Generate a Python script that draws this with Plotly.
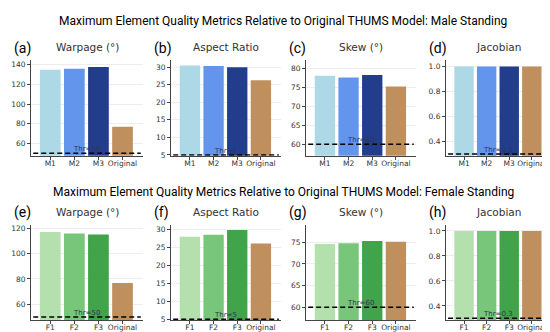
import plotly.graph_objects as go

male_cats = ["M1", "M2", "M3", "Original"]
female_cats = ["F1", "F2", "F3", "Original"]

metrics = ["Warpage (°)", "Aspect Ratio", "Skew (°)", "Jacobian"]
thresholds = [50, 5, 60, 0.3]
thr_labels = ["Thr=50", "Thr=5", "Thr=60", "Thr=0.3"]

male_warpage = [135.0, 136.0, 137.8, 77.0]
male_aspect = [30.45, 30.3, 30.0, 26.3]
male_skew = [78.0, 77.6, 78.2, 75.2]
male_jacobian = [1.0, 1.0, 1.0, 1.0]

female_warpage = [116.9, 115.9, 115.1, 76.8]
female_aspect = [28.0, 28.6, 29.9, 26.15]
female_skew = [74.6, 74.8, 75.3, 75.1]
female_jacobian = [1.0, 1.0, 1.0, 1.0]

male_colors = ["#ADD8E6", "#6495ED", "#233D8D", "#BF8F5E"]
female_colors = ["#B4E0AE", "#78C679", "#41A34A", "#BF8F5E"]

panel_labels = [["(a)", "(b)", "(c)", "(d)"], ["(e)", "(f)", "(g)", "(h)"]]
row_titles = ["Maximum Element Quality Metrics Relative to Original THUMS Model: Male Standing",
              "Maximum Element Quality Metrics Relative to Original THUMS Model: Female Standing"]

W, H = 550, 332
col_px = [(23, 135), (163, 273), (298, 408), (438, 543)]
row_px = [(52, 149), (219, 316)]
dticks = [20, 5, 5, 0.2]

rows_data = [
    (male_cats, [male_warpage, male_aspect, male_skew, male_jacobian], male_colors),
    (female_cats, [female_warpage, female_aspect, female_skew, female_jacobian], female_colors),
]

fig = go.Figure()
annotations = []
shapes = []
font_ax = "DejaVu Sans"

idx = 0
for r, (cats, series, colors) in enumerate(rows_data):
    for c in range(4):
        idx += 1
        xa = "xaxis" if idx == 1 else f"xaxis{idx}"
        ya = "yaxis" if idx == 1 else f"yaxis{idx}"
        xr = "x" if idx == 1 else f"x{idx}"
        yr = "y" if idx == 1 else f"y{idx}"
        vals = series[c]
        thr = thresholds[c]
        fig.add_trace(go.Bar(x=cats, y=vals, marker=dict(color=colors, line=dict(width=0)),
                             xaxis=xr, yaxis=yr, showlegend=False, width=0.86))
        x0, x1 = col_px[c]
        y0, y1 = row_px[r]
        ymin = thr * 0.95
        ymax = max(vals) * 1.05
        fig.update_layout(**{
            xa: dict(domain=[x0 / W, x1 / W], anchor=yr, range=[-0.8, 3.85],
                     showline=True, linecolor="#444", linewidth=1, ticks="outside",
                     ticklen=3, tickcolor="#444", showgrid=False, tickangle=0,
                     ticklabelstandoff=-3,
                     tickfont=dict(family=font_ax, size=7.5, color="#333"), fixedrange=True),
            ya: dict(domain=[1 - y1 / H, 1 - y0 / H], anchor=xr, range=[ymin, ymax],
                     dtick=dticks[c], tickformat=".1f" if c == 3 else None,
                     showline=True, linecolor="#444", linewidth=1, ticks="outside",
                     ticklen=3, tickcolor="#444", showgrid=True, gridcolor="#EDEDED",
                     gridwidth=0.8, zeroline=False,
                     tickfont=dict(family=font_ax, size=7.5, color="#333")),
        })
        shapes.append(dict(type="line", xref=f"{xr} domain", yref=yr, x0=0.02, x1=0.98,
                           y0=thr, y1=thr, line=dict(color="black", width=1.5, dash="5px,3px")))
        annotations.append(dict(x=1.5, y=thr, xref=xr, yref=yr, text=thr_labels[c],
                                showarrow=False, yanchor="bottom", yshift=-2,
                                font=dict(family=font_ax, size=7, color="#333355")))
        annotations.append(dict(x=(x0 + x1) / 2 / W, y=1 - (y0 - 13) / H, xref="paper", yref="paper",
                                text=metrics[c], showarrow=False, xanchor="center", yanchor="middle",
                                font=dict(family=font_ax, size=10.5, color="#333")))
        annotations.append(dict(x=(x0 - 19) / W, y=1 - (y0 - 12) / H, xref="paper", yref="paper",
                                text=panel_labels[r][c], showarrow=False, xanchor="left", yanchor="middle",
                                font=dict(family="Roboto", size=14, color="black")))
    annotations.append(dict(x=0.5, y=1 - (12 if r == 0 else 186) / H, xref="paper", yref="paper",
                            text=row_titles[r], showarrow=False, xanchor="center", yanchor="middle",
                            font=dict(family="Roboto", size=12, color="black")))

fig.update_layout(width=W, height=H, margin=dict(l=0, r=0, t=0, b=0),
                  paper_bgcolor="white", plot_bgcolor="white",
                  annotations=annotations, shapes=shapes, bargap=0.14)

fig.write_html("out.html")
